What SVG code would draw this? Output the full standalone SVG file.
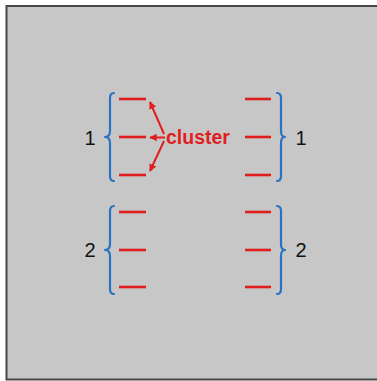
<svg xmlns="http://www.w3.org/2000/svg" width="377" height="381" viewBox="0 0 377 381">
  <style>
    .bar { stroke: #e01e1e; stroke-width: 2.6; fill: none; }
    .brace { stroke: #2873c2; stroke-width: 2.2; fill: none; stroke-linecap: round; stroke-linejoin: round; }
    .num { font-family: "Liberation Sans", Arial, sans-serif; font-size: 20px; fill: #111; text-anchor: middle; }
    .lbl { font-family: "Liberation Sans", Arial, sans-serif; font-size: 19.5px; font-weight: bold; fill: #e01e1e; }
    .arr { stroke: #e01e1e; stroke-width: 2; fill: none; marker-end: url(#head); }
  </style>
  <defs>
    <marker id="head" viewBox="0 0 10 10" refX="9" refY="5" markerWidth="7.5" markerHeight="7.5" markerUnits="userSpaceOnUse" orient="auto">
      <path d="M0,0 L10,5 L0,10 Z" fill="#e01e1e"/>
    </marker>
  </defs>

  <!-- page -->
  <rect x="0" y="0" width="377" height="381" fill="#ffffff"/>
  <rect x="6.5" y="6" width="400" height="373.5" fill="#c7c7c7" stroke="#474747" stroke-width="2"/>

  <!-- left cluster 1 -->
  <g id="left-group-1">
    <path class="brace" d="M114,93 Q110,93 110,98 L110,131 Q110,137 105,137 Q110,137 110,143 L110,176 Q110,181 114,181"/>
    <line class="bar" x1="119" y1="99" x2="146" y2="99"/>
    <line class="bar" x1="119" y1="137" x2="146" y2="137"/>
    <line class="bar" x1="119" y1="175" x2="146" y2="175"/>
    <text class="num" x="90" y="145">1</text>
  </g>

  <!-- right cluster 1 -->
  <g id="right-group-1">
    <path class="brace" d="M277,93 Q281,93 281,98 L281,131 Q281,137 285,137 Q281,137 281,143 L281,176 Q281,181 277,181"/>
    <line class="bar" x1="245" y1="99" x2="271" y2="99"/>
    <line class="bar" x1="245" y1="137" x2="271" y2="137"/>
    <line class="bar" x1="245" y1="175" x2="271" y2="175"/>
    <text class="num" x="301" y="145">1</text>
  </g>

  <!-- left cluster 2 -->
  <g id="left-group-2">
    <path class="brace" d="M114,206 Q110,206 110,211 L110,244 Q110,250 105,250 Q110,250 110,256 L110,289 Q110,294 114,294"/>
    <line class="bar" x1="119" y1="212" x2="146" y2="212"/>
    <line class="bar" x1="119" y1="250" x2="146" y2="250"/>
    <line class="bar" x1="119" y1="287" x2="146" y2="287"/>
    <text class="num" x="90" y="257">2</text>
  </g>

  <!-- right cluster 2 -->
  <g id="right-group-2">
    <path class="brace" d="M277,206 Q281,206 281,211 L281,244 Q281,250 285,250 Q281,250 281,256 L281,289 Q281,294 277,294"/>
    <line class="bar" x1="245" y1="212" x2="271" y2="212"/>
    <line class="bar" x1="245" y1="250" x2="271" y2="250"/>
    <line class="bar" x1="245" y1="287" x2="271" y2="287"/>
    <text class="num" x="301" y="257">2</text>
  </g>

  <!-- label -->
  <g id="cluster-label">
    <text class="lbl" x="166" y="144">cluster</text>
  </g>

  <!-- connectors -->
  <g id="connectors">
    <line class="arr" x1="164" y1="134" x2="150" y2="102"/>
    <line class="arr" x1="165" y1="137.5" x2="150" y2="137.5"/>
    <line class="arr" x1="164" y1="141" x2="150" y2="171"/>
  </g>
</svg>
